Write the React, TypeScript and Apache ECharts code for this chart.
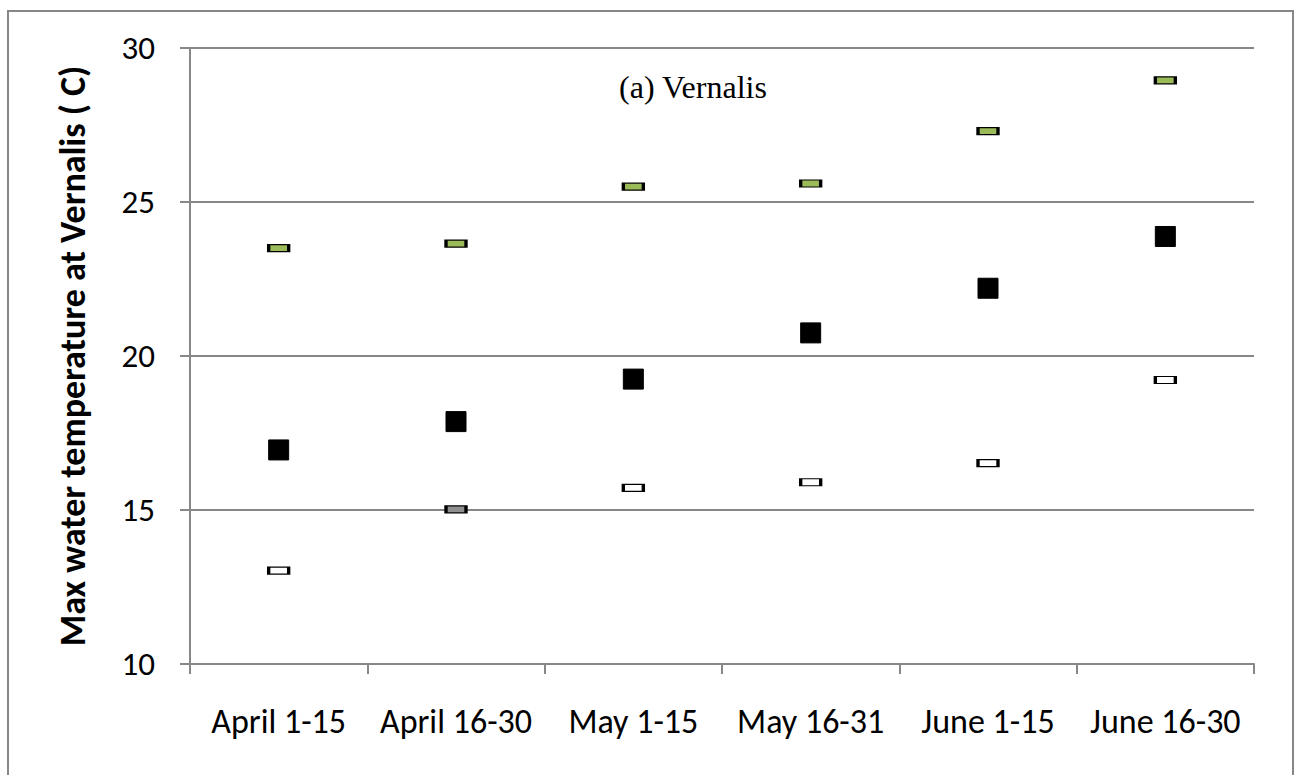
import React, { useEffect, useRef } from "react";
import * as echarts from "echarts";

const categories = ["April 1-15", "April 16-30", "May 1-15", "May 16-31", "June 1-15", "June 16-30"];
const maxValues = [23.5, 23.65, 25.5, 25.6, 27.3, 28.95];
const meanValues = [16.95, 17.87, 19.25, 20.75, 22.2, 23.88];
const minValues = [13.03, 15.02, 15.72, 15.9, 16.52, 19.22];
const grayMinIndex = 1;
const yTicks = [10, 15, 20, 25, 30];
const yTitle = "Max water temperature at Vernalis ( C)";
const panelTitle = "(a) Vernalis";

const SANS = "Carlito, Lato, 'Open Sans', sans-serif";
const SERIF = "'Liberation Serif', 'Times New Roman', serif";
const GRID = "#878787";

export default function App() {
  const ref = useRef<HTMLDivElement>(null);
  useEffect(() => {
    document.body.style.margin = "0";
    const chart = echarts.init(ref.current!, null, { renderer: "svg" });
    chart.setOption({
      animation: false,
      backgroundColor: "#ffffff",
      grid: { left: 190, right: 47, top: 48, bottom: 111 },
      graphic: [
        {
          type: "rect",
          shape: { x: 8, y: 11, width: 1285, height: 780 },
          style: { fill: "none", stroke: GRID, lineWidth: 2 },
          silent: true,
        },
        {
          type: "text",
          x: 693,
          y: 87,
          style: {
            text: panelTitle,
            font: `32px ${SERIF}`,
            fill: "#000",
            align: "center",
            verticalAlign: "middle",
          },
        },
      ],
      xAxis: {
        type: "category",
        data: categories,
        boundaryGap: true,
        axisLine: { lineStyle: { color: GRID, width: 2 } },
        axisTick: { show: true, length: 10, lineStyle: { color: GRID, width: 2 } },
        axisLabel: { color: "#000", fontSize: 34, fontFamily: SANS, margin: 40, interval: 0 },
        splitLine: { show: false },
      },
      yAxis: {
        type: "value",
        min: yTicks[0],
        max: yTicks[yTicks.length - 1],
        interval: 5,
        name: yTitle,
        nameLocation: "middle",
        nameGap: 99,
        nameTextStyle: { color: "#000", fontSize: 36, fontWeight: "bold", fontFamily: SANS },
        axisLine: { show: true, lineStyle: { color: GRID, width: 2 } },
        axisTick: { show: true, length: 10, lineStyle: { color: GRID, width: 2 } },
        axisLabel: { color: "#000", fontSize: 33, fontFamily: SANS, margin: 35 },
        splitLine: { show: true, lineStyle: { color: GRID, width: 2 } },
      },
      series: [
        {
          type: "scatter",
          name: "Max",
          data: maxValues,
          symbol: "rect",
          symbolSize: [20, 7],
          itemStyle: { color: "#9BBB59", borderColor: "#000", borderWidth: 2, opacity: 1 },
          z: 3,
        },
        {
          type: "scatter",
          name: "Mean",
          data: meanValues,
          symbol: "rect",
          symbolSize: [20, 20],
          itemStyle: { color: "#000", borderColor: "#000", borderWidth: 1, opacity: 1 },
          z: 3,
        },
        {
          type: "scatter",
          name: "Min",
          data: minValues.map((v, i) =>
            i === grayMinIndex ? { value: v, itemStyle: { color: "#8f8f8f" } } : v
          ),
          symbol: "rect",
          symbolSize: [20, 7],
          itemStyle: { color: "#ffffff", borderColor: "#000", borderWidth: 2, opacity: 1 },
          z: 3,
        },
      ],
    });
    return () => chart.dispose();
  }, []);
  return <div ref={ref} style={{ width: 1301, height: 775 }} />;
}
